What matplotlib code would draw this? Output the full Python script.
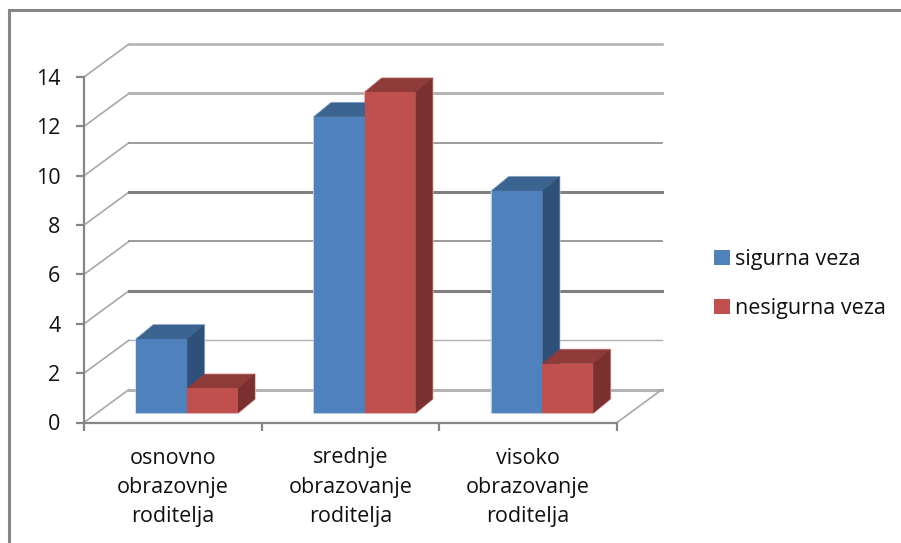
import matplotlib
matplotlib.use("Agg")
import matplotlib.pyplot as plt
from matplotlib.lines import Line2D
from matplotlib.patches import Polygon

# data
categories = ["osnovno\nobrazovnje\nroditelja", "srednje\nobrazovanje\nroditelja", "visoko\nobrazovanje\nroditelja"]
sigurna = [3, 12, 9]
nesigurna = [1, 13, 2]
yticks = [0, 2, 4, 6, 8, 10, 12, 14]
# the scanned picture has uneven grid lines
grid_lw = [2.2, 1.0, 2.2, 1.4, 2.2, 1.2, 2.0, 1.8]
grid_col = ["#b4b4b4", "#b0b0b0", "#808080", "#9a9a9a", "#808080", "#8c8c8c", "#b0b0b0", "#b0b0b0"]

W, H = 901, 543
GREY = "#868686"
FS = 15.5

plt.rcParams["font.family"] = ["Open Sans", "DejaVu Sans"]

fig = plt.figure(figsize=(W / 100, H / 100), dpi=100)
# front plane of the fake 3D box, in pixels
x0, x1, y0, y1 = 84, 617, 422.5, 77
ax = fig.add_axes([x0 / W, 1 - y0 / H, (x1 - x0) / W, (y0 - y1) / H])
ax.set_xlim(0, 3)
ax.set_ylim(0, 14)

sx = 3 / (x1 - x0)  # data units per pixel
sy = 14 / (y0 - y1)

# back wall
bx, by = 45 * sx, 33 * sy
for v, lw, c in zip(yticks, grid_lw, grid_col):
    ax.plot([0, bx], [v, v + by], color="#a8a8a8", lw=1.2, clip_on=False, zorder=1)
    ax.plot([bx, 3 + bx], [v + by, v + by], color=c, lw=lw, clip_on=False, zorder=1)
ax.plot([3, 3 + bx], [0, by], color="#a8a8a8", lw=1.2, clip_on=False, zorder=1)


def bar3d(x, v, width, color, top, side, halo, z):
    # front face goes through bar(), top and side are added around it
    ox, oy = 14.3 * sx, 9.5 * sy
    dx, dy = 17 * sx, 14 * sy
    left = x + ox
    # light outline round the whole box, under every bar so no seam between blue and red
    ax.add_patch(Polygon([(left, oy), (left + width, oy), (left + width + dx, oy + dy),
                          (left + width + dx, v + oy + dy), (left + dx, v + oy + dy), (left, v + oy)],
                         fc=halo, ec=halo, lw=1.4, clip_on=False, zorder=1.5))
    rect = ax.bar(left, v, width, bottom=oy, align="edge", color=color,
                  linewidth=0, clip_on=False, zorder=z + 0.2)
    ax.add_patch(Polygon([(left, v + oy), (left + dx, v + oy + dy),
                          (left + width + dx, v + oy + dy), (left + width, v + oy)],
                         fc=top, ec=top, lw=0.3, clip_on=False, zorder=z))
    ax.add_patch(Polygon([(left + width, oy), (left + width + dx, oy + dy),
                          (left + width + dx, v + oy + dy), (left + width, v + oy)],
                         fc=side, ec=side, lw=0.3, clip_on=False, zorder=z))
    return rect


bw = 50.7 * sx
h1 = h2 = None
for i in range(len(categories)):
    h1 = bar3d(i + 0.5 - bw, sigurna[i], bw, "#4f81bd", "#3c6491", "#2f5078", "#b9cde4", 3)
    h2 = bar3d(i + 0.5, nesigurna[i], bw, "#c0504d", "#8f3b39", "#7a302e", "#e6b9b8", 4)

# axes
for s in ["top", "right"]:
    ax.spines[s].set_visible(False)
for s in ["left", "bottom"]:
    ax.spines[s].set_color(GREY)
    ax.spines[s].set_linewidth(1.6)
    ax.spines[s].set_zorder(2)
ax.patch.set_alpha(0)
ax.set_yticks(yticks)
ax.set_xticks([0, 1, 2, 3])
ax.set_xticklabels([])
ax.set_xticks([0.5, 1.5, 2.5], minor=True)
ax.set_xticklabels(categories, minor=True, fontsize=FS, linespacing=1.52, color="#111111")
ax.tick_params(axis="x", which="major", length=6, width=1.6, color=GREY)
ax.tick_params(axis="x", which="minor", length=0, pad=18)
ax.tick_params(axis="y", length=6, width=1.6, color=GREY, labelsize=FS, labelcolor="#111111", pad=11)

leg = ax.legend([h1, h2], ["sigurna veza", "nesigurna veza"], loc="upper left",
                bbox_to_anchor=(714 / W, 1 - 249 / H), bbox_transform=fig.transFigure,
                frameon=False, fontsize=FS, handlelength=0.74, handleheight=0.68,
                handletextpad=0.25, labelspacing=1.3, borderpad=0, borderaxespad=0)
for t in leg.get_texts():
    t.set_color("#111111")

# outer frame, only top and left are in the picture
fig.add_artist(Line2D([8.5 / W, 8.5 / W, 1], [0, 1 - 10 / H, 1 - 10 / H], transform=fig.transFigure,
                      color=GREY, lw=2.2, solid_joinstyle="miter"))

fig.savefig("out.png", dpi=100)
